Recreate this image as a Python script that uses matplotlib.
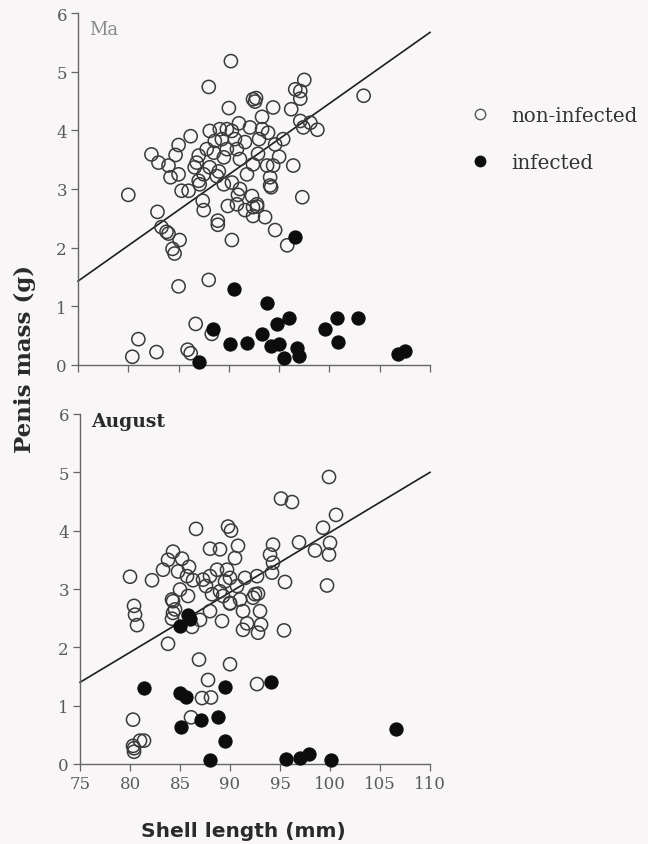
import matplotlib
matplotlib.use("Agg")
import matplotlib.pyplot as plt
from matplotlib.lines import Line2D

# --- data ---
may_open_x = [90.2, 88.0, 92.4, 92.7, 92.6, 90.0, 97.5, 96.6, 97.1, 97.1, 94.4, 96.2, 103.4,
              93.3, 91.0, 92.1, 97.1, 98.1, 98.8, 97.4, 86.2, 88.1, 89.1, 89.8, 90.3, 93.3,
              93.9, 95.4, 94.6, 85.0, 82.3, 83.0, 84.7, 84.0, 85.0, 84.2, 87.0, 86.6, 87.8,
              88.5, 89.8, 89.5, 90.8, 91.1, 88.1, 88.8, 87.5, 87.0, 92.4, 91.8, 93.8, 94.4,
              94.1, 96.4, 94.1, 97.3, 80.0, 85.3, 86.0, 87.1, 89.5, 90.3, 91.1, 92.3, 92.8,
              90.8, 88.6, 89.3, 90.6, 91.6, 86.8, 89.0, 92.9, 95.0, 93.0,
              82.9, 83.3, 83.8, 84.0, 85.1, 84.4, 84.6, 87.5, 88.9, 88.9, 89.9, 90.3, 91.6,
              92.4, 92.8, 93.6, 94.6, 95.8, 87.4, 90.9, 92.4, 94.2,
              85.0, 88.0, 86.7, 88.3, 81.0, 80.4, 82.8, 85.9, 86.2]
may_open_y = [5.18, 4.74, 4.53, 4.55, 4.49, 4.38, 4.86, 4.70, 4.67, 4.54, 4.39, 4.36, 4.59,
              4.23, 4.12, 4.05, 4.16, 4.13, 4.01, 4.05, 3.90, 3.99, 4.02, 4.02, 3.99, 4.02,
              3.96, 3.85, 3.76, 3.75, 3.59, 3.45, 3.58, 3.40, 3.25, 3.20, 3.57, 3.37, 3.68,
              3.62, 3.68, 3.54, 3.68, 3.51, 3.37, 3.22, 3.25, 3.14, 3.42, 3.25, 3.40, 3.40,
              3.20, 3.40, 3.06, 2.86, 2.90, 2.97, 2.97, 3.08, 3.08, 3.11, 3.00, 2.88, 2.74,
              2.74, 3.82, 3.85, 3.85, 3.80, 3.45, 3.30, 3.60, 3.55, 3.85,
              2.61, 2.35, 2.27, 2.24, 2.13, 1.98, 1.90, 2.64, 2.46, 2.39, 2.71, 2.13, 2.64,
              2.54, 2.70, 2.52, 2.30, 2.04, 2.80, 2.90, 2.69, 3.03,
              1.34, 1.45, 0.70, 0.53, 0.44, 0.14, 0.22, 0.26, 0.20]

may_inf_x = [96.6, 90.55, 93.8, 96.0, 94.8, 93.3, 88.4, 90.1, 91.8, 94.2, 95.0,
             95.5, 96.8, 97.0, 99.6, 100.8, 102.8, 100.9, 106.8, 107.5, 87.0]
may_inf_y = [2.19, 1.29, 1.06, 0.80, 0.69, 0.52, 0.61, 0.36, 0.37, 0.33, 0.36,
             0.12, 0.29, 0.16, 0.62, 0.80, 0.80, 0.39, 0.19, 0.23, 0.05]

aug_open_x = [99.9, 95.1, 96.2, 100.6, 99.3, 100.0, 99.9, 99.7, 98.5, 96.9, 94.3, 94.0,
              94.3, 94.2, 95.5, 86.6, 89.8, 90.1, 90.8, 90.5, 88.0, 89.0, 84.3, 83.8,
              85.2, 83.3, 85.9, 84.8, 85.7, 80.0, 82.2, 87.3, 88.0, 88.7, 89.7, 90.0,
              89.5, 91.5, 92.7, 90.7, 85.0, 85.8, 84.2, 84.5, 88.2, 89.0, 90.0, 91.0,
              92.5, 92.3, 91.3, 93.0, 89.2, 86.3, 87.6, 89.3, 92.8,
              80.4, 80.5, 80.7, 83.8, 84.3, 84.3, 84.2, 86.2, 87.0, 88.0, 90.0, 91.7,
              91.3, 93.1, 92.8, 95.4, 86.9, 90.0, 87.8, 87.2, 88.1, 92.7, 80.3, 86.1,
              81.0, 81.4, 80.3, 80.4, 80.4]
aug_open_y = [4.92, 4.55, 4.49, 4.27, 4.05, 3.79, 3.59, 3.06, 3.66, 3.80, 3.76, 3.59,
              3.45, 3.28, 3.12, 4.03, 4.07, 4.00, 3.74, 3.53, 3.69, 3.68, 3.64, 3.50,
              3.52, 3.33, 3.38, 3.30, 3.22, 3.21, 3.15, 3.16, 3.22, 3.33, 3.33, 3.19,
              3.13, 3.19, 3.22, 3.05, 2.99, 2.88, 2.82, 2.65, 2.91, 2.96, 2.76, 2.82,
              2.91, 2.85, 2.62, 2.62, 2.45, 3.15, 3.05, 2.88, 2.92,
              2.71, 2.56, 2.38, 2.06, 2.79, 2.59, 2.49, 2.35, 2.47, 2.62, 2.75, 2.41,
              2.30, 2.39, 2.25, 2.29, 1.79, 1.71, 1.44, 1.13, 1.14, 1.37, 0.76, 0.80,
              0.40, 0.40, 0.31, 0.21, 0.27]

aug_inf_x = [81.4, 85.0, 85.6, 85.1, 87.1, 88.8, 89.5, 89.5, 88.0, 94.1, 95.6,
             97.0, 97.9, 100.1, 106.6, 85.0, 85.8, 86.0]
aug_inf_y = [1.31, 1.21, 1.15, 0.64, 0.76, 0.80, 1.32, 0.40, 0.06, 1.40, 0.09,
             0.10, 0.17, 0.06, 0.60, 2.36, 2.56, 2.48]

fit_x = [75, 110]
may_fit = [1.43, 5.67]
aug_fit = [1.40, 5.00]

x_ticks = [75, 80, 85, 90, 95, 100, 105, 110]
y_ticks = [0, 1, 2, 3, 4, 5, 6]

plt.rcParams["font.family"] = ["DejaVu Serif"]
TICK_COLOR = "#5a5a5a"
EDGE = "#3a3a3a"

fig = plt.figure(figsize=(6.48, 8.45), dpi=100)
fig.patch.set_facecolor("#f8f6f7")

ax_may = fig.add_axes([0.1204, 0.5669, 0.5432, 0.4165])
ax_aug = fig.add_axes([0.1235, 0.0947, 0.5401, 0.4142])


def style_panel(ax, show_xlabels):
    ax.set_facecolor("none")
    ax.set_xlim(75, 110)
    ax.set_ylim(0, 6)
    ax.set_xticks(x_ticks)
    ax.set_yticks(y_ticks)
    for side in ("top", "right"):
        ax.spines[side].set_visible(False)
    for side in ("left", "bottom"):
        ax.spines[side].set_color("#666666")
        ax.spines[side].set_linewidth(1.0)
    ax.tick_params(direction="out", length=5, width=0.9, color="#666666",
                   labelcolor=TICK_COLOR, labelsize=12, pad=3)
    if not show_xlabels:
        ax.set_xticklabels([])


def draw_panel(ax, ox, oy, ix, iy, fit):
    ax.plot(fit_x, fit, color="#1e1e1e", lw=1.2, zorder=2, clip_on=False)
    ax.scatter(ox, oy, s=90, facecolors="none", edgecolors=EDGE, linewidths=1.1,
               zorder=3, clip_on=False)
    ax.scatter(ix, iy, s=90, facecolors="#0d0d0d", edgecolors="#0d0d0d", linewidths=0.8,
               zorder=4, clip_on=False)


draw_panel(ax_may, may_open_x, may_open_y, may_inf_x, may_inf_y, may_fit)
draw_panel(ax_aug, aug_open_x, aug_open_y, aug_inf_x, aug_inf_y, aug_fit)
style_panel(ax_may, False)
style_panel(ax_aug, True)

ax_may.text(76.1, 5.72, "Ma", fontsize=13, color="#8a8a8a", ha="left", va="center")
ax_aug.text(76.1, 5.88, "August", fontsize=13.5, fontweight="bold",
            color="#2a2a2a", ha="left", va="center")

fig.text(0.038, 0.575, "Penis mass (g)", rotation=90, fontsize=16.5,
         fontweight="bold", color="#2a2a2a", ha="center", va="center")
fig.text(0.375, 0.005, "Shell length (mm)", family=["DejaVu Sans"], fontsize=14.5,
         fontweight="bold", color="#2a2a2a", ha="center", va="bottom")

# legend drawn by hand, beside the top panel
handles = [
    Line2D([], [], ls="none", marker="o", ms=7.5, mfc="none", mec="#555555", mew=1.0),
    Line2D([], [], ls="none", marker="o", ms=7.5, mfc="#0d0d0d", mec="#0d0d0d"),
]
leg = fig.legend(handles, ["non-infected", "infected"], loc="upper left",
                 bbox_to_anchor=(0.698, 0.894), frameon=False, handletextpad=1.05,
                 labelspacing=1.4, handlelength=1.0, prop={"size": 14.3})
for t in leg.get_texts():
    t.set_color("#333333")

fig.savefig("out.png", dpi=100, facecolor=fig.get_facecolor())
